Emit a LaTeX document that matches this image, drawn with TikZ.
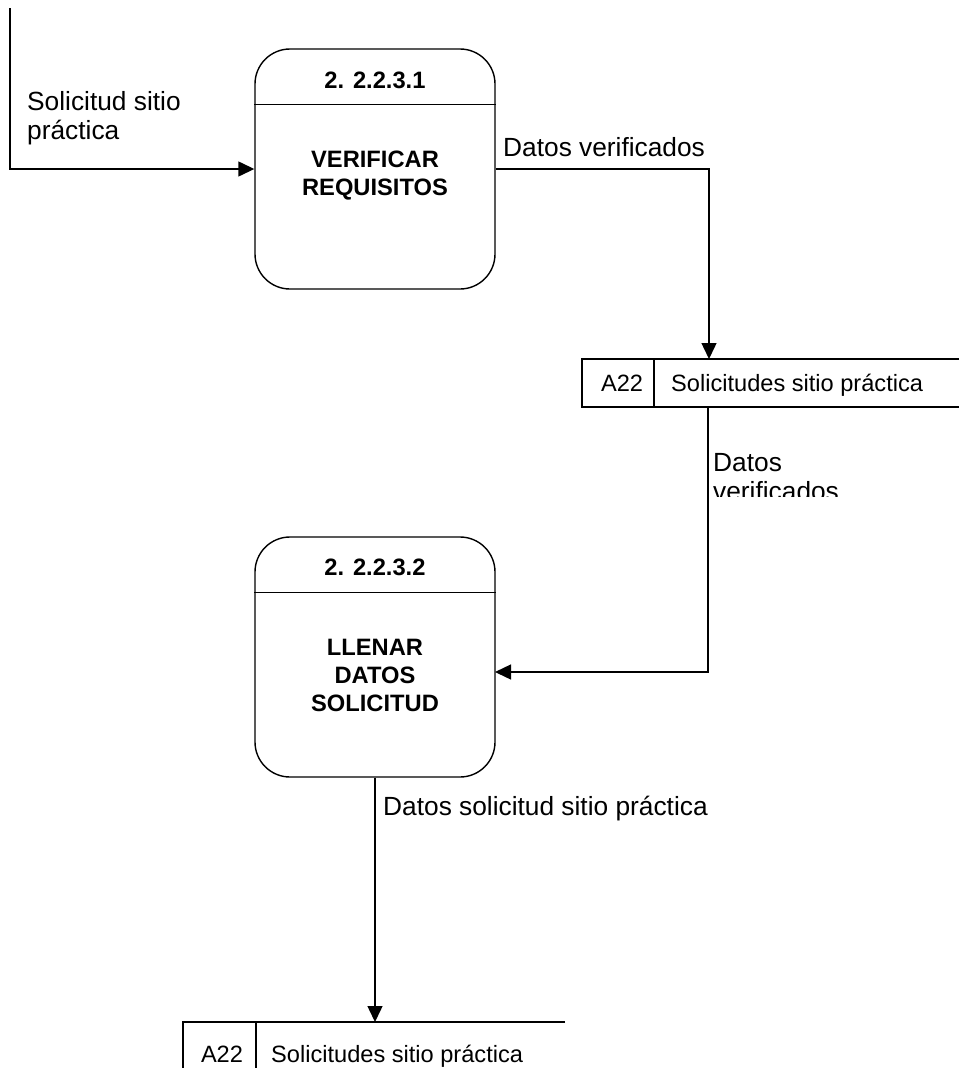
\documentclass[tikz,border=0pt]{standalone}
\usepackage{fontspec}
\setmainfont{Liberation Sans}
\usetikzlibrary{arrows.meta, positioning, calc}

\tikzset{
  proceso/.style={rectangle, rounded corners=35pt, draw, line width=1.4pt,
                  minimum width=240pt, minimum height=240pt, inner sep=0pt},
  flujo/.style={line width=1.4pt, -{Triangle[length=16pt, width=15pt]}},
  almacen/.style={line width=1.4pt},
  etiqueta/.style={font=\fontsize{26.3}{29}\selectfont, align=left, inner sep=0pt},
  titulo/.style={font=\bfseries\fontsize{23.7}{28}\selectfont, align=center, inner sep=0pt},
  dato/.style={font=\fontsize{23.6}{28}\selectfont, inner sep=0pt}
}

\begin{document}
\begin{tikzpicture}[x=1pt, y=-1pt]
\useasboundingbox (0,0) rectangle (959,1068);

% procesos
\node[proceso] (p1) at (375,169) {};
\draw[line width=1.4pt] ($(p1.north west)+(0,56)$) -- ($(p1.north east)+(0,56)$);
\node[titulo] (t1) at (375,80) {2. 2.2.3.1};
\node[titulo] (b1) at (375,176) {VERIFICAR\\REQUISITOS};

\node[proceso] (p2) at (375,657) {};
\draw[line width=1.4pt] ($(p2.north west)+(0,56)$) -- ($(p2.north east)+(0,56)$);
\node[titulo] (t2) at (375,567) {2. 2.2.3.2};
\node[titulo] (b2) at (375,675) {LLENAR\\DATOS\\SOLICITUD};

% almacenes
\draw[almacen] (959,359) -| (582,407) -- (959,407);
\draw[almacen] (654,359) -- (654,407);
\node[dato, anchor=base] (a1) at (622,391.5) {A22};
\node[dato, anchor=base west] (s1) at (671,391.5) {Solicitudes sitio práctica};

\draw[almacen] (565,1022) -| (183,1072);
\draw[almacen] (256,1022) -- (256,1072);
\node[dato, anchor=base] (a2) at (222,1062.5) {A22};
\node[dato, anchor=base west] (s2) at (271,1062.5) {Solicitudes sitio práctica};

% flujos
\coordinate (src) at (10,8);
\coordinate (s1in) at (709,359);
\coordinate (s1out) at (708,407);
\coordinate (p2in) at (495,672);
\coordinate (s2in) at (375,1022);

\draw[flujo] (src) |- (p1.west);
\draw[flujo] (p1.east) -| (s1in);
\draw[flujo] (s1out) |- (p2in);
\draw[flujo] (p2.south) -- (s2in);

\node[etiqueta, anchor=north west] (l1) at (27,91.5) {Solicitud sitio\\práctica};
\node[etiqueta, anchor=north west] (l2) at (503,137.5) {Datos verificados};
\begin{scope}
  \clip (700,440) rectangle (900,496.5);
  \node[etiqueta, anchor=north west] (l3) at (713,453) {Datos\\verificados};
\end{scope}
\node[etiqueta, anchor=north west] (l4) at (383,796) {Datos solicitud sitio práctica};
\end{tikzpicture}
\end{document}
